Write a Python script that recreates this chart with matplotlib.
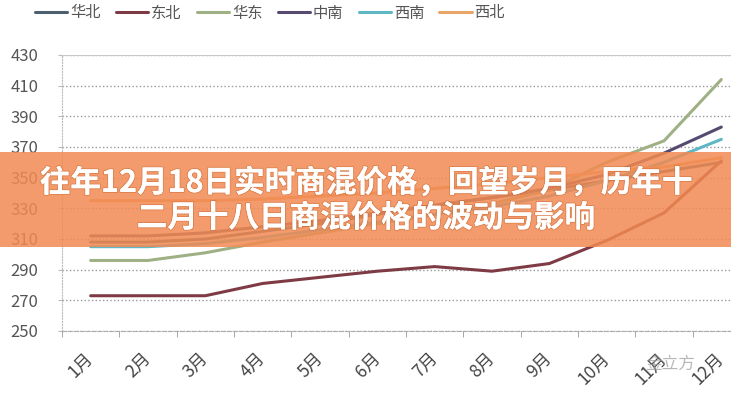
import matplotlib
matplotlib.use('Agg')
import matplotlib.pyplot as plt
from matplotlib.patches import Rectangle
from matplotlib.transforms import ScaledTranslation
import matplotlib.patheffects as pe
import numpy as np

plt.rcParams['font.family'] = ['Noto Sans CJK SC', 'DejaVu Sans']

months = ['1月', '2月', '3月', '4月', '5月', '6月', '7月', '8月', '9月', '10月', '11月', '12月']
yticks = [250, 270, 290, 310, 330, 350, 370, 390, 410, 430]

huabei = [308, 308, 310, 315, 320, 326, 332, 337, 342, 348, 354, 360]
dongbei = [273, 273, 273, 281, 285, 289, 292, 289, 294, 309, 327, 361]
huadong = [296, 296, 301, 308, 314, 320, 326, 333, 342, 360, 374, 414]
zhongnan = [312, 312, 314, 318, 322, 327, 332, 337, 343, 352, 366, 383]
xinan = [305, 305, 307, 311, 316, 321, 326, 331, 338, 348, 360, 375]
xibei = [335, 335, 335, 336, 338, 340, 343, 346, 350, 354, 357, 363]

series = [('华北', huabei, '#4d6070'),
          ('东北', dongbei, '#7e3b45'),
          ('华东', huadong, '#9fb085'),
          ('中南', zhongnan, '#574a70'),
          ('西南', xinan, '#5fb7c4'),
          ('西北', xibei, '#e9a56a')]

fig = plt.figure(figsize=(7.31, 4.0), dpi=100)
ax = fig.add_axes([62/731, 69/400, 688/731, 276/400])

x = np.arange(len(months))
for name, vals, color in series:
    ax.plot(x, vals, color=color, lw=2.2, label=name, solid_capstyle='round')

ax.set_xlim(-0.5, 11.5)
ax.set_ylim(250, 430)
ax.set_yticks(yticks)
ax.yaxis.grid(True, linestyle=':', color='#999999', lw=1)
ax.axhline(430, color='#c8c8c8', lw=1.5)
for s in ['top', 'right']:
    ax.spines[s].set_visible(False)
ax.spines['left'].set_color('#bbbbbb')
ax.spines['left'].set_linestyle(':')
ax.spines['bottom'].set_color('#aaaaaa')
ax.spines['bottom'].set_linestyle('--')

ax.set_xticks(x)
ax.set_xticklabels(months, rotation=45, ha='right', va='center', rotation_mode='anchor',
                   fontsize=12.5, color='#444444')
shift = ScaledTranslation(11/100, 0, fig.dpi_scale_trans)
for lab in ax.get_xticklabels():
    lab.set_transform(lab.get_transform() + shift)
ax.set_xticks(np.arange(-0.5, 12, 1), minor=True)
ax.tick_params(axis='x', which='major', length=0, pad=18)
ax.tick_params(axis='x', which='minor', length=4, color='#999999')
ax.tick_params(axis='y', length=3, color='#bbbbbb', pad=14, labelsize=12, labelcolor='#555555')

fig.legend(loc='center', bbox_to_anchor=(270/731, 1 - 13/400), ncol=6, frameon=False,
           fontsize=11, handlelength=2.1, handletextpad=0.2, columnspacing=1.0,
           labelcolor='#555555')

# watermark
fig.text(670/731, 1 - 364/400, '金立方', fontsize=12, color='#999999', alpha=0.7,
         ha='center', va='center')

# orange banner over the chart
fig.patches.append(Rectangle((0, 1 - 247/400), 1, 95/400, transform=fig.transFigure,
                             facecolor='#f28a52', alpha=0.85, zorder=5))
t1 = fig.text(0.5, 1 - 183/400, '往年12月18日实时商混价格，回望岁月，历年十', fontsize=22,
              fontweight='bold', color='white', ha='center', va='center', zorder=6)
t2 = fig.text(0.5, 1 - 218/400, '二月十八日商混价格的波动与影响', fontsize=22,
              fontweight='bold', color='white', ha='center', va='center', zorder=6)
for t in (t1, t2):
    t.set_path_effects([pe.withStroke(linewidth=1.5, foreground='#c0602a', alpha=0.4), pe.Normal()])

fig.savefig('out.png', dpi=100)
